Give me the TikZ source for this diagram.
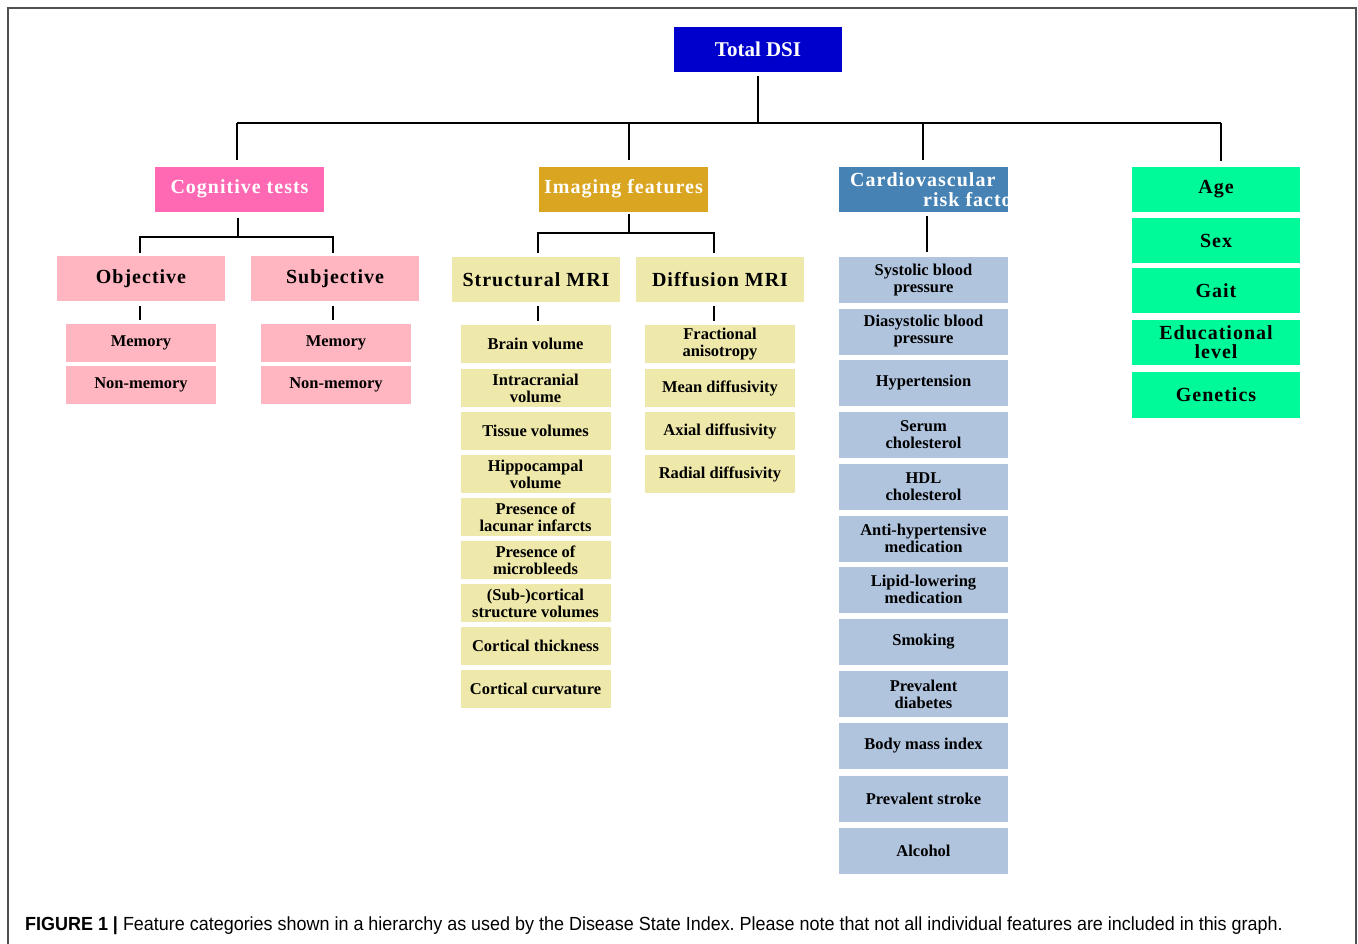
\documentclass[tikz,border=0pt]{standalone}
\usepackage{fontspec}
\setmainfont{Liberation Serif}
\newfontfamily\capfont{Liberation Sans}[FakeStretch=0.945]
\newfontfamily\spfont{Liberation Serif}[LetterSpace=5]
\frenchspacing
\definecolor{dsiblue}{RGB}{0,0,204}
\definecolor{cogpink}{RGB}{255,105,180}
\definecolor{imggold}{RGB}{218,165,32}
\definecolor{cvblue}{RGB}{70,130,180}
\definecolor{agegreen}{RGB}{0,250,154}
\definecolor{lpink}{RGB}{255,182,193}
\definecolor{lkhaki}{RGB}{238,232,170}
\definecolor{lsteel}{RGB}{176,196,222}
\definecolor{framegray}{RGB}{80,80,80}
\tikzset{
  box/.style={inner sep=0pt, align=center},
  ttl/.style={box, minimum width=169pt, minimum height=45pt, text=white,
    font=\spfont\bfseries\fontsize{20}{20}\selectfont},
  sub/.style={box, minimum width=168pt, minimum height=45pt, text=black,
    font=\spfont\bfseries\fontsize{20}{19}\selectfont},
  itm/.style={box, minimum width=150pt, minimum height=38pt, text=black,
    font=\bfseries\fontsize{16.5}{17}\selectfont},
  cvitm/.style={box, minimum width=169pt, minimum height=46pt, text=black,
    font=\bfseries\fontsize{16.5}{17}\selectfont},
  conn/.style={draw=black, line width=2.2pt},
}
\begin{document}
\begin{tikzpicture}[x=1pt,y=1pt]
\useasboundingbox (0,0) rectangle (1358,-943);
\draw[framegray, line width=2pt] (8,-8) rectangle (1356,-980);

% root
\node[ttl, fill=dsiblue, minimum width=168pt, font=\bfseries\fontsize{21}{21}\selectfont] (tot) at (758,-49.5) {Total DSI};

% level 1
\node[ttl, fill=cogpink] (cog) at (239.5,-189) {Cognitive tests};
\node[ttl, fill=imggold] (img) at (623.5,-189) {Imaging features};
\node[ttl, fill=cvblue] (cv) at (923.5,-189) {};
\begin{scope}
  \clip (cv.south west) rectangle (cv.north east);
  \node[box, anchor=base west, text=white, font=\spfont\bfseries\fontsize{20}{20}\selectfont] (cvt1) at (850,-186) {Cardiovascular};
  \node[box, anchor=base west, text=white, font=\spfont\bfseries\fontsize{20}{20}\selectfont] (cvt2) at (923,-206) {risk factors};
\end{scope}

% demographic column
\node[sub, fill=agegreen] (age) at (1216,-189.5) {Age};
\node[sub, fill=agegreen] (sex) at (1216,-240.5) {Sex};
\node[sub, fill=agegreen] (gait) at (1216,-290.5) {Gait};
\node[sub, fill=agegreen] (edu) at (1216,-342.5) {Educational\\level};
\node[sub, fill=agegreen, minimum height=46pt] (gen) at (1216,-395) {Genetics};

% cognitive subtree
\node[sub, fill=lpink] (obj) at (141,-278.5) {Objective};
\node[sub, fill=lpink] (subj) at (335,-278.5) {Subjective};
\node[itm, fill=lpink] (om) at (141,-343) {Memory};
\node[itm, fill=lpink] (onm) at (141,-385) {Non-memory};
\node[itm, fill=lpink] (sm) at (336,-343) {Memory};
\node[itm, fill=lpink] (snm) at (336,-385) {Non-memory};

% imaging subtree
\node[sub, fill=lkhaki] (smri) at (536,-279.5) {Structural MRI};
\node[sub, fill=lkhaki] (dmri) at (720,-279.5) {Diffusion MRI};
\node[itm, fill=lkhaki] (s1) at (535.5,-344) {Brain volume};
\node[itm, fill=lkhaki] (s2) at (535.5,-388) {Intracranial\\volume};
\node[itm, fill=lkhaki] (s3) at (535.5,-431) {Tissue volumes};
\node[itm, fill=lkhaki] (s4) at (535.5,-474) {Hippocampal\\volume};
\node[itm, fill=lkhaki] (s5) at (535.5,-517) {Presence of\\lacunar infarcts};
\node[itm, fill=lkhaki] (s6) at (535.5,-560) {Presence of\\microbleeds};
\node[itm, fill=lkhaki] (s7) at (535.5,-603) {(Sub-)cortical\\structure volumes};
\node[itm, fill=lkhaki] (s8) at (535.5,-646) {Cortical thickness};
\node[itm, fill=lkhaki] (s9) at (535.5,-689) {Cortical curvature};
\node[itm, fill=lkhaki] (d1) at (720,-344) {Fractional\\anisotropy};
\node[itm, fill=lkhaki] (d2) at (720,-388) {Mean diffusivity};
\node[itm, fill=lkhaki] (d3) at (720,-431) {Axial diffusivity};
\node[itm, fill=lkhaki] (d4) at (720,-474) {Radial diffusivity};

% cardiovascular items
\node[cvitm, fill=lsteel] (c1) at (923.5,-280) {Systolic blood\\pressure};
\node[cvitm, fill=lsteel] (c2) at (923.5,-331.5) {Diasystolic blood\\pressure};
\node[cvitm, fill=lsteel] (c3) at (923.5,-382.5) {Hypertension};
\node[cvitm, fill=lsteel] (c4) at (923.5,-434.5) {Serum\\cholesterol};
\node[cvitm, fill=lsteel] (c5) at (923.5,-486.5) {HDL\\cholesterol};
\node[cvitm, fill=lsteel] (c6) at (923.5,-538.5) {Anti-hypertensive\\medication};
\node[cvitm, fill=lsteel] (c7) at (923.5,-589.5) {Lipid-lowering\\medication};
\node[cvitm, fill=lsteel] (c8) at (923.5,-642) {Smoking};
\node[cvitm, fill=lsteel] (c9) at (923.5,-694) {Prevalent\\diabetes};
\node[cvitm, fill=lsteel] (c10) at (923.5,-746) {Body mass index};
\node[cvitm, fill=lsteel] (c11) at (923.5,-798.5) {Prevalent stroke};
\node[cvitm, fill=lsteel] (c12) at (923.5,-851) {Alcohol};

% connectors: root bus
\coordinate (bus) at (0,-123);
\draw[conn] ([yshift=-4pt]tot.south) -- (tot.south |- bus);
\draw[conn] ([xshift=-2.5pt]cog.north |- bus) -- ([xshift=5pt]age.north |- bus);
\draw[conn] ([xshift=-2.5pt]cog.north |- bus) -- ([xshift=-2.5pt,yshift=6pt]cog.north);
\draw[conn] ([xshift=5.5pt]img.north |- bus) -- ([xshift=5.5pt,yshift=6pt]img.north);
\draw[conn] ([xshift=-0.5pt]cv.north |- bus) -- ([xshift=-0.5pt,yshift=6pt]cv.north);
\draw[conn] ([xshift=5pt]age.north |- bus) -- ([xshift=5pt,yshift=6pt]age.north);

% cognitive connectors
\coordinate (cb) at (0,-237);
\draw[conn] ([xshift=-1.5pt,yshift=-6pt]cog.south) -- ([xshift=-1.5pt]cog.south |- cb);
\draw[conn] ([xshift=-1pt,yshift=3pt]obj.north) |- ([xshift=-2pt]subj.north |- cb) -- ([xshift=-2pt,yshift=3pt]subj.north);
\draw[conn] ([xshift=-1pt,yshift=-5pt]obj.south) -- ([xshift=-1pt,yshift=4pt]om.north);
\draw[conn] ([xshift=-2pt,yshift=-5pt]subj.south) -- ([xshift=-3pt,yshift=4pt]sm.north);

% imaging connectors
\coordinate (ib) at (0,-233);
\draw[conn] ([xshift=5.5pt,yshift=-2pt]img.south) -- ([xshift=5.5pt]img.south |- ib);
\draw[conn] ([xshift=2pt,yshift=4pt]smri.north) |- ([xshift=-6pt]dmri.north |- ib) -- ([xshift=-6pt,yshift=4pt]dmri.north);
\draw[conn] ([xshift=2pt,yshift=-4pt]smri.south) -- ([xshift=2.5pt,yshift=4pt]s1.north);
\draw[conn] ([xshift=-6pt,yshift=-4pt]dmri.south) -- ([xshift=-6pt,yshift=4pt]d1.north);

% cardiovascular connector
\draw[conn] ([xshift=3.5pt,yshift=-4pt]cv.south) -- ([xshift=3.5pt,yshift=5pt]c1.north);

% caption
\node[anchor=base west, inner sep=0pt, font=\capfont\fontsize{19}{19}\selectfont] (cap) at (25,-930)
  {\textbf{FIGURE 1 |} Feature categories shown in a hierarchy as used by the Disease State Index. Please note that not all individual features are included in this graph.};
\end{tikzpicture}
\end{document}
